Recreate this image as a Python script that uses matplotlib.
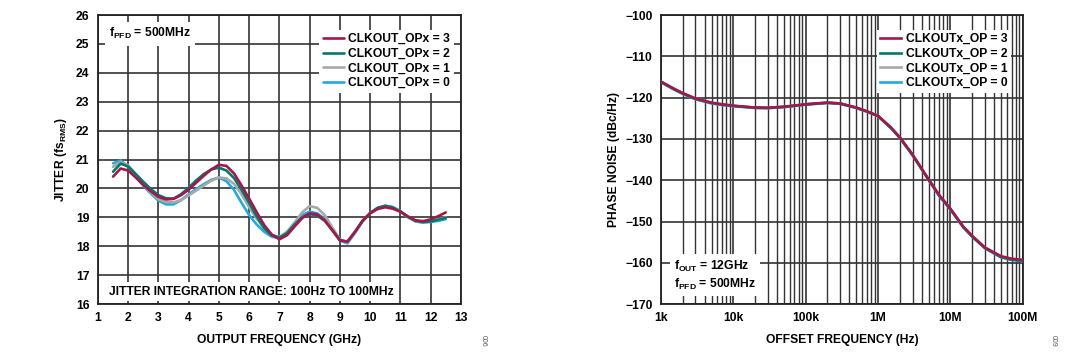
import matplotlib
matplotlib.use('Agg')
import matplotlib.pyplot as plt
from matplotlib.ticker import FixedLocator, FixedFormatter, LogLocator, NullFormatter

plt.rcParams['font.family'] = ['Liberation Sans', 'DejaVu Sans']
plt.rcParams['font.weight'] = 'bold'
plt.rcParams['axes.labelweight'] = 'bold'
plt.rcParams['mathtext.fontset'] = 'custom'
plt.rcParams['mathtext.rm'] = 'Liberation Sans:bold'
plt.rcParams['mathtext.bf'] = 'Liberation Sans:bold'
plt.rcParams['mathtext.it'] = 'Liberation Sans:bold'

# jitter vs output frequency (GHz)
freq_ghz = [1.5, 1.75, 2.0, 2.25, 2.5, 2.75, 3.0, 3.25, 3.5, 3.75, 4.0, 4.25, 4.5, 4.75, 5.0,
            5.25, 5.5, 5.75, 6.0, 6.25, 6.5, 6.75, 7.0, 7.25, 7.5, 7.75, 8.0, 8.25, 8.5, 8.75,
            9.0, 9.25, 9.5, 9.75, 10.0, 10.25, 10.5, 10.75, 11.0, 11.25, 11.5, 11.75, 12.0, 12.25, 12.5]
jitter_op3 = [20.41, 20.69, 20.62, 20.38, 20.12, 19.90, 19.71, 19.62, 19.64, 19.77, 19.96, 20.20, 20.44, 20.66, 20.82,
              20.78, 20.52, 20.10, 19.65, 19.18, 18.73, 18.40, 18.24, 18.38, 18.68, 18.97, 19.14, 19.10, 18.90, 18.55,
              18.20, 18.17, 18.50, 18.88, 19.14, 19.29, 19.35, 19.30, 19.20, 19.03, 18.90, 18.87, 18.93, 19.04, 19.17]
jitter_op2 = [20.58, 20.86, 20.76, 20.50, 20.23, 19.98, 19.77, 19.66, 19.65, 19.80, 20.03, 20.28, 20.50, 20.66, 20.72,
              20.62, 20.36, 19.95, 19.50, 19.03, 18.62, 18.38, 18.30, 18.45, 18.75, 19.00, 19.12, 19.06, 18.88, 18.56,
              18.22, 18.15, 18.50, 18.88, 19.15, 19.33, 19.40, 19.34, 19.20, 19.02, 18.88, 18.84, 18.86, 18.92, 18.98]
jitter_op1 = [20.75, 20.92, 20.80, 20.48, 20.15, 19.86, 19.63, 19.53, 19.52, 19.60, 19.76, 19.93, 20.10, 20.27, 20.38,
              20.35, 20.16, 19.80, 19.35, 18.95, 18.62, 18.40, 18.32, 18.50, 18.82, 19.17, 19.39, 19.33, 19.08, 18.65,
              18.24, 18.12, 18.48, 18.88, 19.15, 19.33, 19.40, 19.34, 19.20, 19.00, 18.86, 18.83, 18.87, 18.93, 19.00]
jitter_op0 = [20.87, 20.97, 20.75, 20.42, 20.10, 19.82, 19.58, 19.45, 19.45, 19.60, 19.80, 19.98, 20.15, 20.30, 20.38,
              20.25, 19.95, 19.50, 19.08, 18.75, 18.50, 18.33, 18.28, 18.48, 18.80, 19.08, 19.20, 19.14, 18.95, 18.60,
              18.20, 18.10, 18.46, 18.86, 19.13, 19.32, 19.40, 19.36, 19.22, 19.02, 18.86, 18.82, 18.84, 18.88, 18.94]

# phase noise vs offset frequency (Hz)
offset_hz = [1e3, 1.5e3, 2e3, 3e3, 5e3, 7e3, 1e4, 2e4, 3e4, 5e4, 1e5, 2e5, 3e5, 5e5, 7e5,
             1e6, 1.5e6, 2e6, 3e6, 5e6, 7e6, 1e7, 1.5e7, 2e7, 3e7, 5e7, 7e7, 1e8]
pn_op3 = [-116.1, -117.8, -118.9, -120.2, -121.2, -121.6, -121.95, -122.4, -122.45, -122.2, -121.6, -121.2, -121.4, -122.4, -123.3,
          -124.4, -127.2, -129.6, -133.8, -139.8, -143.6, -146.9, -151.2, -153.5, -156.3, -158.4, -159.0, -159.3]
pn_op2 = [-116.2, -117.9, -119.0, -120.3, -121.3, -121.7, -122.0, -122.45, -122.5, -122.25, -121.65, -121.25, -121.45, -122.45, -123.35,
          -124.45, -127.3, -129.7, -133.9, -139.9, -143.7, -147.0, -151.3, -153.6, -156.4, -158.6, -159.2, -159.5]
pn_op1 = [-116.15, -117.85, -118.95, -120.25, -121.25, -121.65, -122.0, -122.4, -122.45, -122.2, -121.6, -121.2, -121.4, -122.4, -123.3,
          -124.4, -127.25, -129.65, -133.85, -139.85, -143.65, -146.95, -151.25, -153.55, -156.35, -158.5, -159.1, -159.4]
pn_op0 = [-116.3, -118.0, -119.1, -120.4, -121.4, -121.8, -122.1, -122.5, -122.55, -122.3, -121.7, -121.3, -121.5, -122.5, -123.4,
          -124.5, -127.35, -129.75, -133.95, -139.95, -143.8, -147.1, -151.4, -153.7, -156.5, -158.7, -159.3, -159.6]

colors = {'3': '#a3174a', '2': '#00796b', '1': '#a8a8a8', '0': '#22a9e1'}
grid_color = '#333333'
fs = 8.7


def style_axes(ax):
    for spine in ax.spines.values():
        spine.set_linewidth(1.3)
        spine.set_color('#222222')
    ax.tick_params(axis='both', which='both', length=0, labelsize=fs, pad=6)
    ax.set_axisbelow(True)


def draw_legend(ax, lines, labels, anchor):
    leg = ax.legend(lines, labels, loc='upper right', bbox_to_anchor=anchor, fontsize=fs,
                    frameon=True, fancybox=False, handlelength=1.7, handletextpad=0.4,
                    labelspacing=0.22, borderpad=0.3, borderaxespad=0.0)
    leg.get_frame().set_edgecolor('none')
    leg.get_frame().set_facecolor('white')
    leg.get_frame().set_alpha(1.0)
    leg.set_zorder(5)


def draw_jitter(ax):
    series = [('0', jitter_op0), ('1', jitter_op1), ('2', jitter_op2), ('3', jitter_op3)]
    lines = {}
    for key, values in series:
        lines[key], = ax.plot(freq_ghz, values, color=colors[key], lw=1.9, zorder=3,
                              solid_capstyle='round')
    ax.set_xlim(1, 13)
    ax.set_ylim(16, 26)
    ax.set_xticks(range(1, 14))
    ax.set_yticks(range(16, 27))
    ax.grid(True, color=grid_color, lw=1.2)
    style_axes(ax)
    order = ['3', '2', '1', '0']
    draw_legend(ax, [lines[k] for k in order], ['CLKOUT_OPx = %s' % k for k in order], (0.981, 0.95))
    ax.text(0.03, 0.935, r'f$_\mathbf{PFD}$ = 500MHz', transform=ax.transAxes, fontsize=fs,
            va='center', ha='left', zorder=5,
            bbox=dict(facecolor='white', edgecolor='none', pad=3))
    ax.text(0.03, 0.043, 'JITTER INTEGRATION RANGE: 100Hz TO 100MHz', transform=ax.transAxes,
            fontsize=fs, va='center', ha='left', zorder=5,
            bbox=dict(facecolor='white', edgecolor='none', pad=2.5))
    ax.set_xlabel('OUTPUT FREQUENCY (GHz)', fontsize=fs, labelpad=7)
    ax.set_ylabel(r'JITTER (fs$_\mathbf{RMS}$)', fontsize=fs, labelpad=5)


def draw_phase_noise(ax):
    series = [('0', pn_op0), ('1', pn_op1), ('2', pn_op2), ('3', pn_op3)]
    lines = {}
    for key, values in series:
        lines[key], = ax.plot(offset_hz, values, color=colors[key], lw=1.9, zorder=3)
    ax.set_xscale('log')
    ax.set_xlim(1e3, 1e8)
    ax.set_ylim(-170, -100)
    ax.xaxis.set_major_locator(FixedLocator([1e3, 1e4, 1e5, 1e6, 1e7, 1e8]))
    ax.xaxis.set_major_formatter(FixedFormatter(['1k', '10k', '100k', '1M', '10M', '100M']))
    ax.xaxis.set_minor_locator(LogLocator(base=10, subs=range(2, 10)))
    ax.xaxis.set_minor_formatter(NullFormatter())
    ax.set_yticks(range(-170, -99, 10))
    ax.grid(True, which='major', color=grid_color, lw=1.2)
    ax.grid(True, which='minor', axis='x', color=grid_color, lw=1.0)
    style_axes(ax)
    order = ['3', '2', '1', '0']
    draw_legend(ax, [lines[k] for k in order], ['CLKOUTx_OP = %s' % k for k in order], (0.967, 0.95))
    ax.text(0.035, 0.1, 'f$_\\mathbf{OUT}$ = 12GHz\nf$_\\mathbf{PFD}$ = 500MHz', transform=ax.transAxes,
            fontsize=fs, va='center', ha='left', zorder=5, linespacing=1.3,
            bbox=dict(facecolor='white', edgecolor='none', pad=3))
    ax.set_xlabel('OFFSET FREQUENCY (Hz)', fontsize=fs, labelpad=7)
    ax.set_ylabel('PHASE NOISE (dBc/Hz)', fontsize=fs, labelpad=4)


fig = plt.figure(figsize=(10.8, 3.59), dpi=100)
ax1 = fig.add_axes([0.0907, 0.153, 0.336, 0.805])
ax2 = fig.add_axes([0.612, 0.153, 0.335, 0.805])
draw_jitter(ax1)
draw_phase_noise(ax2)

fig.text(0.447, 0.05, '006', rotation=-90, fontsize=5, color='#555555', fontweight='normal', ha='center', va='center')
fig.text(0.975, 0.05, '009', rotation=-90, fontsize=5, color='#555555', fontweight='normal', ha='center', va='center')

fig.savefig('out.png', dpi=100)
